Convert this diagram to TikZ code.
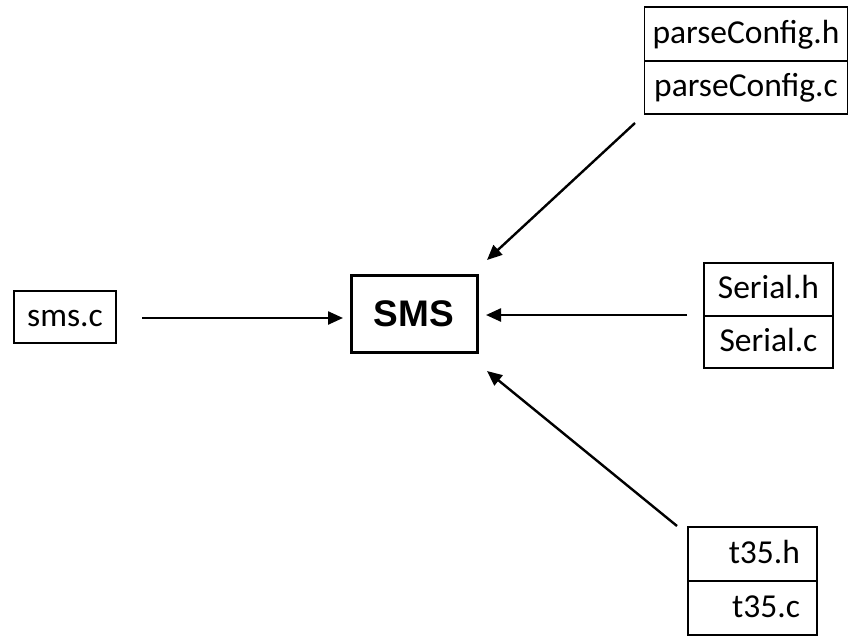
\documentclass[tikz,border=0pt]{standalone}
\usepackage{fontspec}
\setmainfont{Carlito}
\newfontfamily\smsfont{Liberation Sans}
\usetikzlibrary{arrows.meta}
\begin{document}
\begin{tikzpicture}[x=1pt,y=-1pt,
  cell/.style={draw, line width=1.6pt, inner sep=0pt, minimum height=54pt,
    text height=24pt, text depth=6pt, font=\fontsize{33.5}{40}\selectfont},
  core/.style={draw, line width=3pt, minimum width=126pt, minimum height=77pt,
    inner sep=0pt, text height=27pt, text depth=2pt,
    font=\smsfont\bfseries\fontsize{37}{44}\selectfont},
  feed/.style={line width=2.4pt, -{Triangle[length=15pt,width=13pt]}}]
\useasboundingbox (0,0) rectangle (848,637);

% central module
\node[core] (sms) at (414,313.5) {SMS};

% source files
\node[cell, minimum width=102pt, minimum height=52pt] (smsc) at (65,317) {sms.c};

\node[cell, minimum width=203pt] (pch) at (746,34) {parseConfig.h};
\node[cell, minimum width=203pt, minimum height=53pt] (pcc) at (746,87.5) {parseConfig.c};

\node[cell, minimum width=129pt, minimum height=53pt] (serh) at (768.5,289.5) {Serial.h};
\node[cell, minimum width=129pt, minimum height=52pt] (serc) at (768.5,342) {Serial.c};

\node[cell, inner xsep=17pt, text width=95pt, align=right] (t35h) at (752.5,554) {t35.h};
\node[cell, inner xsep=17pt, text width=95pt, align=right] (t35c) at (752.5,608) {t35.c};

% arrow end points
\coordinate (smscOut) at (142,318);
\coordinate (smsWest) at (343,318);
\coordinate (pcOut) at (635,123);
\coordinate (smsNE) at (487,260);
\coordinate (serOut) at (687,315);
\coordinate (smsEast) at (486,315);
\coordinate (t35Out) at (677,526);
\coordinate (smsSE) at (487,371);

% dependencies
\draw[feed] (smscOut) -- (smsWest);
\draw[feed] (pcOut) -- (smsNE);
\draw[feed] (serOut) -- (smsEast);
\draw[feed] (t35Out) -- (smsSE);
\end{tikzpicture}
\end{document}
